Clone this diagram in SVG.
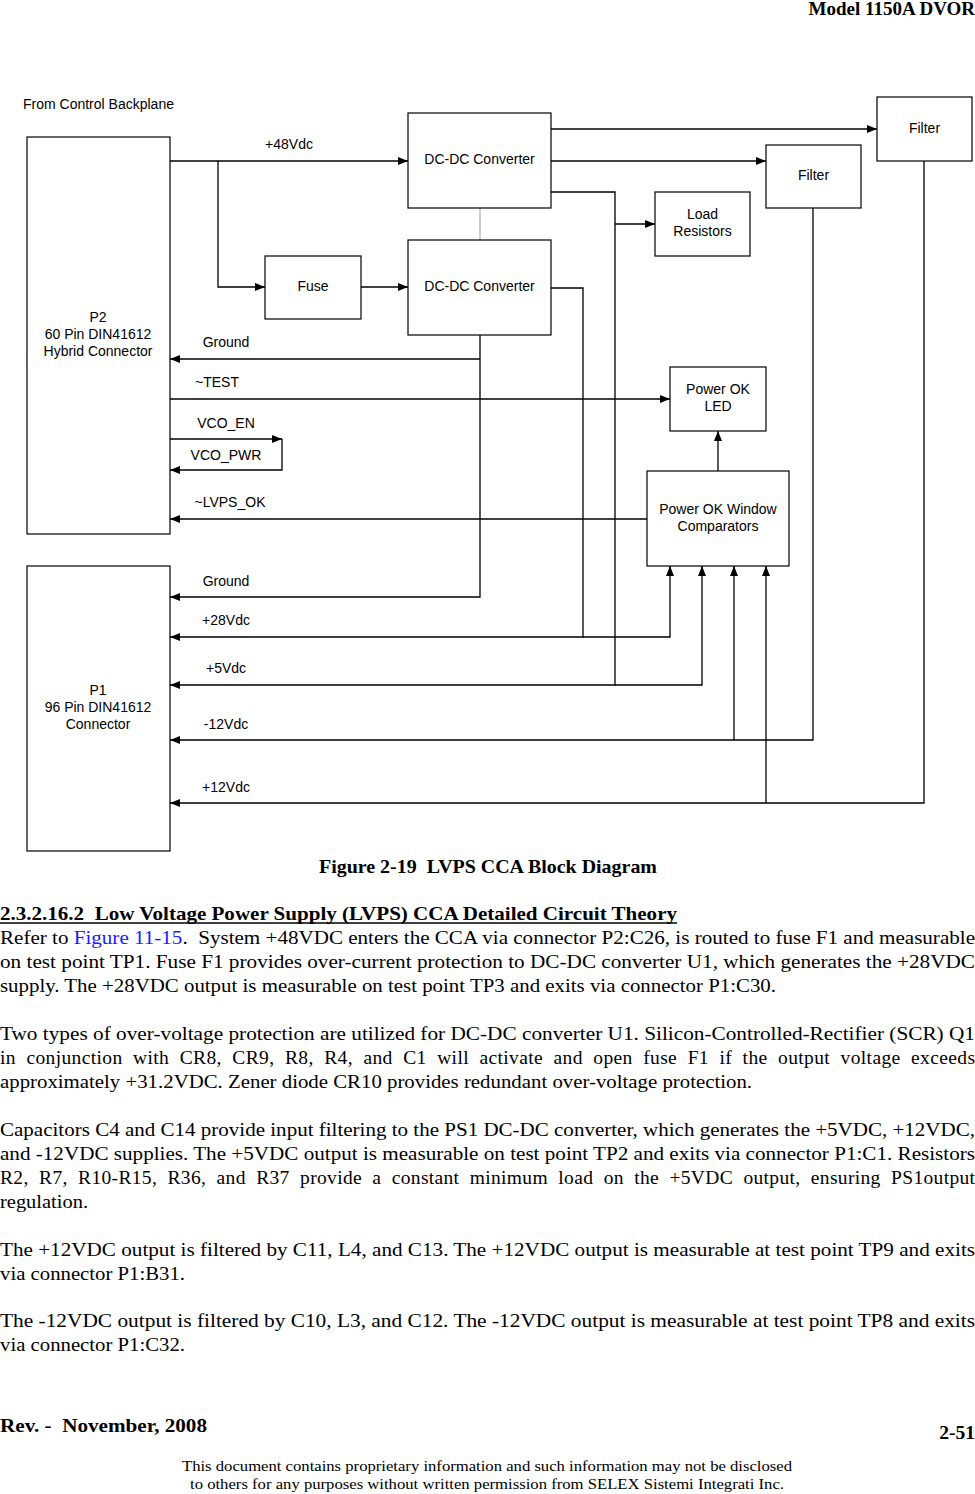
<svg xmlns="http://www.w3.org/2000/svg" width="975" height="1494" viewBox="0 0 975 1494" xml:space="preserve">
<style>
text{white-space:pre}
.n{fill:#fff;stroke:#000;stroke-width:1.2}
.c{fill:none;stroke:#000;stroke-width:1.3}
.g{fill:none;stroke:#999;stroke-width:1}
.t{font-family:"Liberation Sans",Arial,sans-serif;font-size:14px;fill:#000}
.m{text-anchor:middle}
.b{font-family:"Liberation Serif","Times New Roman",serif;font-size:19.5px;fill:#000}
.bb{font-family:"Liberation Serif","Times New Roman",serif;font-weight:bold;fill:#000}
.f{font-family:"Liberation Serif","Times New Roman",serif;font-size:15.5px;fill:#000;text-anchor:middle}
</style>
<defs>
<marker id="a" viewBox="0 0 10 10" refX="10" refY="5" markerWidth="10" markerHeight="10" markerUnits="userSpaceOnUse" orient="auto">
<path d="M0,1 L10,5 L0,9 z" fill="#000"/>
</marker>
</defs>
<rect width="975" height="1494" fill="#fff"/>
<text class="bb" x="975" y="15" font-size="19" text-anchor="end">Model 1150A DVOR</text>
<text class="t" x="23" y="109">From Control Backplane</text>
<g id="connectors">
<path class="c" d="M170,161 H408" marker-end="url(#a)"/>
<path class="c" d="M218,161 V287 H265" marker-end="url(#a)"/>
<path class="c" d="M361,287 H408" marker-end="url(#a)"/>
<path class="c" d="M551,129 H877" marker-end="url(#a)"/>
<path class="c" d="M551,161 H766" marker-end="url(#a)"/>
<path class="c" d="M551,192 H615 V685 H170" marker-end="url(#a)"/>
<path class="c" d="M615,224 H655" marker-end="url(#a)"/>
<path class="g" d="M480,208 V240"/>
<path class="c" d="M480,335 V597 H170" marker-end="url(#a)"/>
<path class="c" d="M480,359 H170" marker-end="url(#a)"/>
<path class="c" d="M551,288 H583 V637 H170" marker-end="url(#a)"/>
<path class="c" d="M170,399 H670" marker-end="url(#a)"/>
<path class="c" d="M170,439 H282" marker-end="url(#a)"/>
<path class="c" d="M282,439 V470 H170" marker-end="url(#a)"/>
<path class="c" d="M647,519 H170" marker-end="url(#a)"/>
<path class="c" d="M718,471 V431" marker-end="url(#a)"/>
<path class="c" d="M583,637 H670 V566" marker-end="url(#a)"/>
<path class="c" d="M615,685 H702 V566" marker-end="url(#a)"/>
<path class="c" d="M813,208 V740 H170" marker-end="url(#a)"/>
<path class="c" d="M734,740 V566" marker-end="url(#a)"/>
<path class="c" d="M924,161 V803 H170" marker-end="url(#a)"/>
<path class="c" d="M766,803 V566" marker-end="url(#a)"/>
</g>
<g id="labels">
<text class="t m" x="289" y="149">+48Vdc</text>
<text class="t m" x="226" y="347">Ground</text>
<text class="t m" x="217" y="387">~TEST</text>
<text class="t m" x="226" y="428">VCO_EN</text>
<text class="t m" x="226" y="460">VCO_PWR</text>
<text class="t m" x="230" y="507">~LVPS_OK</text>
<text class="t m" x="226" y="586">Ground</text>
<text class="t m" x="226" y="625">+28Vdc</text>
<text class="t m" x="226" y="673">+5Vdc</text>
<text class="t m" x="226" y="729">-12Vdc</text>
<text class="t m" x="226" y="792">+12Vdc</text>
</g>
<g id="p2">
<rect class="n" x="27" y="137" width="143" height="397"/>
<text class="t m" x="98" y="322">P2</text>
<text class="t m" x="98" y="339">60 Pin DIN41612</text>
<text class="t m" x="98" y="356">Hybrid Connector</text>
</g>
<g id="p1">
<rect class="n" x="27" y="566" width="143" height="285"/>
<text class="t m" x="98" y="695">P1</text>
<text class="t m" x="98" y="712">96 Pin DIN41612</text>
<text class="t m" x="98" y="729">Connector</text>
</g>
<g id="dcdc1">
<rect class="n" x="408" y="113" width="143" height="95"/>
<text class="t m" x="479.5" y="164">DC-DC Converter</text>
</g>
<g id="dcdc2">
<rect class="n" x="408" y="240" width="143" height="95"/>
<text class="t m" x="479.5" y="291">DC-DC Converter</text>
</g>
<g id="fuse">
<rect class="n" x="265" y="256" width="96" height="63"/>
<text class="t m" x="313" y="291">Fuse</text>
</g>
<g id="load">
<rect class="n" x="655" y="192" width="95" height="64"/>
<text class="t m" x="702.5" y="219">Load</text>
<text class="t m" x="702.5" y="236">Resistors</text>
</g>
<g id="filter1">
<rect class="n" x="877" y="97" width="95" height="64"/>
<text class="t m" x="924.5" y="133">Filter</text>
</g>
<g id="filter2">
<rect class="n" x="766" y="145" width="95" height="63"/>
<text class="t m" x="813.5" y="180">Filter</text>
</g>
<g id="led">
<rect class="n" x="670" y="367" width="96" height="64"/>
<text class="t m" x="718" y="394">Power OK</text>
<text class="t m" x="718" y="411">LED</text>
</g>
<g id="comp">
<rect class="n" x="647" y="471" width="142" height="95"/>
<text class="t m" x="718" y="514">Power OK Window</text>
<text class="t m" x="718" y="531">Comparators</text>
</g>
<text class="bb" x="488" y="873" font-size="19.5" text-anchor="middle" textLength="338" lengthAdjust="spacingAndGlyphs">Figure 2-19  LVPS CCA Block Diagram</text>
<text class="bb" x="0" y="920" font-size="19.5" textLength="677" lengthAdjust="spacingAndGlyphs">2.3.2.16.2  Low Voltage Power Supply (LVPS) CCA Detailed Circuit Theory</text>
<line x1="0" y1="923" x2="677" y2="923" stroke="#000" stroke-width="1.4"/>
<text class="b" x="0" y="944" textLength="975" lengthAdjust="spacingAndGlyphs">Refer to <tspan fill="#1a1aff">Figure 11-15</tspan>.  System +48VDC enters the CCA via connector P2:C26, is routed to fuse F1 and measurable</text>
<text class="b" x="0" y="968" textLength="975" lengthAdjust="spacingAndGlyphs">on test point TP1. Fuse F1 provides over-current protection to DC-DC converter U1, which generates the +28VDC</text>
<text class="b" x="0" y="992" textLength="776" lengthAdjust="spacingAndGlyphs">supply. The +28VDC output is measurable on test point TP3 and exits via connector P1:C30.</text>
<text class="b" x="0" y="1040" textLength="975" lengthAdjust="spacingAndGlyphs">Two types of over-voltage protection are utilized for DC-DC converter U1. Silicon-Controlled-Rectifier (SCR) Q1</text>
<text class="b" x="0" y="1064" textLength="975" lengthAdjust="spacing">in  conjunction  with  CR8,  CR9,  R8,  R4,  and  C1  will  activate  and  open  fuse  F1  if  the  output  voltage  exceeds</text>
<text class="b" x="0" y="1088" textLength="752" lengthAdjust="spacingAndGlyphs">approximately +31.2VDC. Zener diode CR10 provides redundant over-voltage protection.</text>
<text class="b" x="0" y="1136" textLength="975" lengthAdjust="spacingAndGlyphs">Capacitors C4 and C14 provide input filtering to the PS1 DC-DC converter, which generates the +5VDC, +12VDC,</text>
<text class="b" x="0" y="1160" textLength="975" lengthAdjust="spacingAndGlyphs">and -12VDC supplies. The +5VDC output is measurable on test point TP2 and exits via connector P1:C1. Resistors</text>
<text class="b" x="0" y="1184" textLength="975" lengthAdjust="spacing">R2,  R7,  R10-R15,  R36,  and  R37  provide  a  constant  minimum  load  on  the  +5VDC  output,  ensuring  PS1output</text>
<text class="b" x="0" y="1208" textLength="88" lengthAdjust="spacingAndGlyphs">regulation.</text>
<text class="b" x="0" y="1256" textLength="975" lengthAdjust="spacingAndGlyphs">The +12VDC output is filtered by C11, L4, and C13. The +12VDC output is measurable at test point TP9 and exits</text>
<text class="b" x="0" y="1280" textLength="185" lengthAdjust="spacingAndGlyphs">via connector P1:B31.</text>
<text class="b" x="0" y="1327" textLength="975" lengthAdjust="spacingAndGlyphs">The -12VDC output is filtered by C10, L3, and C12. The -12VDC output is measurable at test point TP8 and exits</text>
<text class="b" x="0" y="1351" textLength="185" lengthAdjust="spacingAndGlyphs">via connector P1:C32.</text>
<text class="bb" x="0" y="1432" font-size="19.5" textLength="207" lengthAdjust="spacingAndGlyphs">Rev. -  November, 2008</text>
<text class="bb" x="975" y="1439" font-size="19.5" text-anchor="end">2-51</text>
<text class="f" x="487" y="1471" textLength="610" lengthAdjust="spacingAndGlyphs">This document contains proprietary information and such information may not be disclosed</text>
<text class="f" x="487" y="1489" textLength="594" lengthAdjust="spacingAndGlyphs">to others for any purposes without written permission from SELEX Sistemi Integrati Inc.</text>
</svg>
